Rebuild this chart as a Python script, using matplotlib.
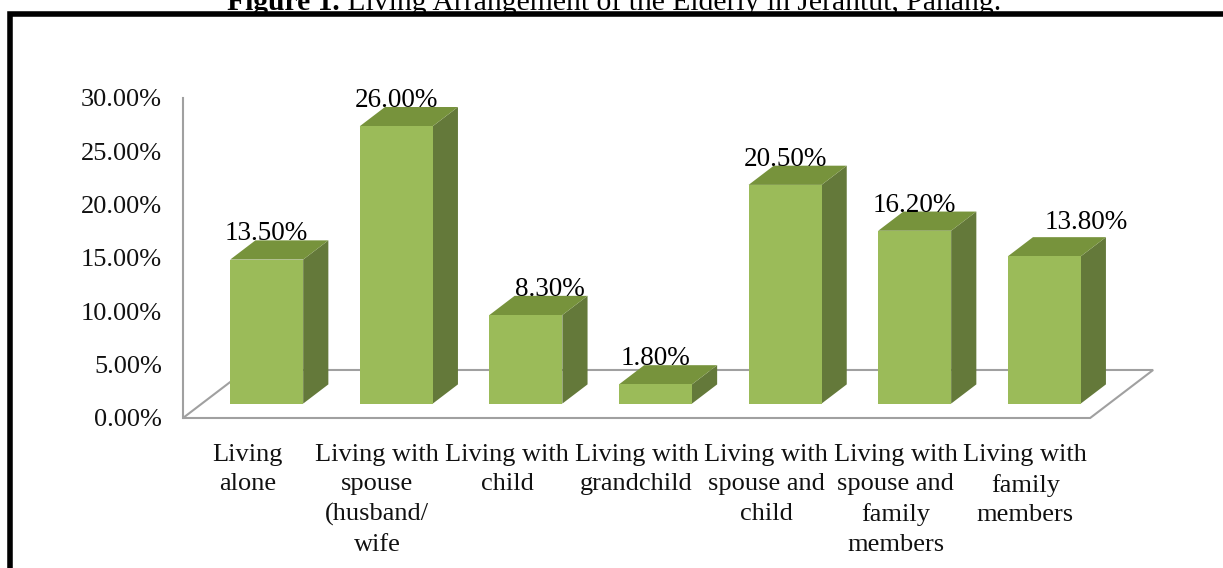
import matplotlib
matplotlib.use("Agg")
import matplotlib.pyplot as plt
from matplotlib.patches import Polygon
from matplotlib.ticker import FuncFormatter

plt.rcParams['font.family'] = ['Liberation Serif', 'DejaVu Serif']

categories = [
    "Living\nalone",
    "Living with\nspouse\n(husband/\nwife",
    "Living with\nchild",
    "Living with\ngrandchild",
    "Living with\nspouse and\nchild",
    "Living with\nspouse and\nfamily\nmembers",
    "Living with\nfamily\nmembers",
]
values = [13.5, 26.0, 8.3, 1.8, 20.5, 16.2, 13.8]
yticks = [0, 5, 10, 15, 20, 25, 30]
# a couple of data labels were nudged off their bars (points)
label_dx = [0, 0, 17, 0, 0, 0, 30]
label_dy = [0, 0, 0, 0, 0, 0, 6]

FRONT = '#9bbb59'
TOP = '#77933c'
SIDE = '#64793a'
GRID = '#a0a0a0'

# depth of the floor (x in category units, y in percent)
DX, DY = 0.486, 4.5
F0 = 0.30     # where the bars start inside the floor depth
FD = 0.40     # how deep each bar is
W = 0.563     # width of a bar front face

fig = plt.figure(figsize=(12.23, 5.68), dpi=100)
ax = fig.add_axes([0, 0, 1, 1])
ax.set_xlim(-1.912, 7.525)
ax.set_ylim(-14.06, 39.18)

# floor outline
x0, x1 = -0.5, len(values) - 0.5
ax.plot([x0 + DX, x0, x1, x1 + DX, x0 + DX],
        [DY, 0, 0, DY, DY], color=GRID, lw=1.5, solid_joinstyle='miter', zorder=1)

for i, v in enumerate(values):
    cx = i + F0 * DX
    bx = cx - W / 2
    by = F0 * DY
    ddx, ddy = FD * DX, FD * DY
    front = [(bx, by), (bx + W, by), (bx + W, by + v), (bx, by + v)]
    top = [(bx, by + v), (bx + W, by + v), (bx + W + ddx, by + v + ddy), (bx + ddx, by + v + ddy)]
    side = [(bx + W, by), (bx + W + ddx, by + ddy), (bx + W + ddx, by + v + ddy), (bx + W, by + v)]
    ax.add_patch(Polygon(side, closed=True, facecolor=SIDE, edgecolor='none', zorder=2))
    ax.add_patch(Polygon(top, closed=True, facecolor=TOP, edgecolor='none', zorder=2))
    ax.add_patch(Polygon(front, closed=True, facecolor=FRONT, edgecolor='none', zorder=3))
    ax.annotate(f"{v:.2f}%", xy=(cx, by + v + ddy), xytext=(label_dx[i], label_dy[i]),
                textcoords='offset points', ha='center', va='baseline',
                fontsize=19.5, color='black', zorder=5)
    ax.text(i, -2.4, categories[i], ha='center', va='top', multialignment='center',
            fontsize=19, linespacing=1.45, color='#111111')

# value axis
for name in ['top', 'right', 'bottom']:
    ax.spines[name].set_visible(False)
ax.spines['left'].set_position(('data', x0))
ax.spines['left'].set_bounds(0, 30)
ax.spines['left'].set_color(GRID)
ax.spines['left'].set_linewidth(1.5)
ax.set_yticks(yticks)
ax.yaxis.set_major_formatter(FuncFormatter(lambda y, _: f"{y:.2f}%"))
ax.tick_params(axis='y', length=0, pad=15, labelsize=19, labelcolor='#111111')
ax.set_xticks([])
ax.patch.set_visible(False)

# frame around the figure
fy = 1 - 13.5 / 568
fx = 10.5 / 1223
fig.add_artist(plt.Line2D([fx, fx, 1.05], [-0.05, fy, fy], transform=fig.transFigure,
                          color='black', lw=4, solid_joinstyle='miter'))

# caption: bold figure number followed by plain text
fig.canvas.draw()
r = fig.canvas.get_renderer()
base_y = 1 - 10 / 568
t1 = fig.text(0, base_y, "Figure 1.", fontsize=21.3, fontweight='bold', va='baseline')
t2 = fig.text(0, base_y, " Living Arrangement of the Elderly in Jerantut, Pahang.",
              fontsize=21.3, va='baseline')
w1 = t1.get_window_extent(r).width / fig.bbox.width
w2 = t2.get_window_extent(r).width / fig.bbox.width
start = 614 / 1223 - (w1 + w2) / 2
t1.set_x(start)
t2.set_x(start + w1)

fig.savefig("out.png", dpi=100)
